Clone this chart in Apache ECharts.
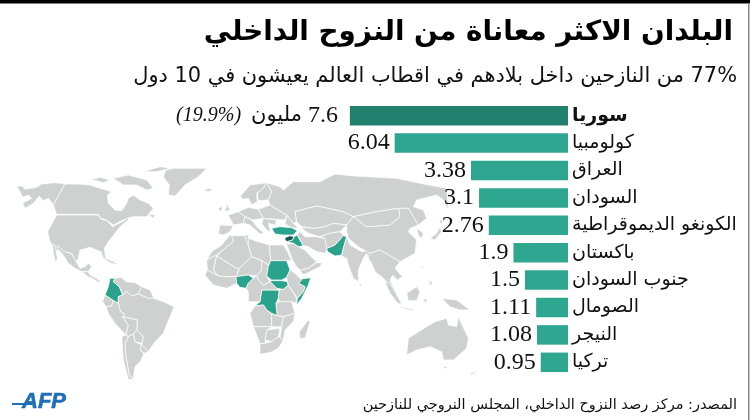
<!DOCTYPE html>
<html dir="rtl" lang="ar">
<head>
<meta charset="utf-8">
<style>html,body{margin:0;padding:0;background:#fff}#chart{width:750px;height:420px}</style>
<script src="https://cdn.jsdelivr.net/npm/echarts@6/dist/echarts.min.js"></script>
</head>
<body>
<div id="chart"></div>
<script>
const titleText = 'البلدان الاكثر معاناة من النزوح الداخلي';
const subtitleText = '77% من النازحين داخل بلادهم في اقطاب العالم يعيشون في 10 دول';
const sourceText = 'المصدر: مركز رصد النزوح الداخلي، المجلس النروجي للنازحين';

const categories = ['سوريا', 'كولومبيا', 'العراق', 'السودان', 'الكونغو الديموقراطية', 'باكستان', 'جنوب السودان', 'الصومال', 'النيجر', 'تركيا'];
const displaced = [7.6, 6.04, 3.38, 3.1, 2.76, 1.9, 1.5, 1.11, 1.08, 0.95];
const valueUnit = 'مليون';
const syriaShare = '(19.9%)';

const highlighted = ['Colombia', 'Turkey', 'Iraq', 'Pakistan', 'Sudan', 'South Sudan', 'Somalia', 'DR Congo', 'Nigeria'];
const darkHighlighted = ['Syria'];

// Simplified country outlines in a flat plane (x grows right, y grows down).
const land = {
  Alaska: [[50,50],[65,47],[75,58],[110,52],[125,42],[165,38],[195,42],[160,105],[145,85],[130,92],[118,78],[100,100],[75,115],[68,100],[95,85],[85,75],[68,82],[60,65]],
  Canada: [[195,42],[160,105],[170,133],[295,133],[303,145],[320,150],[340,165],[370,150],[400,140],[440,140],[460,115],[445,100],[420,90],[400,75],[385,85],[380,100],[365,122],[345,120],[325,100],[322,75],[335,65],[300,55],[270,45],[230,42]],
  Arctic1: [[275,28],[300,22],[330,30],[310,38]],
  Arctic2: [[340,25],[385,15],[440,30],[460,55],[440,60],[410,45],[370,45]],
  Arctic3: [[430,5],[480,-10],[510,-5],[470,5]],
  Newfoundland: [[445,135],[465,133],[460,145]],
  USA: [[170,135],[295,135],[303,147],[320,152],[338,170],[372,152],[388,142],[385,150],[360,170],[345,190],[325,215],[313,235],[318,270],[310,265],[303,245],[270,232],[240,240],[235,265],[228,275],[215,250],[190,245],[165,240],[150,215],[143,185]],
  Mexico: [[172,225],[190,243],[215,252],[230,278],[240,295],[255,290],[265,280],[275,290],[265,305],[245,305],[225,295],[205,280],[190,255],[172,235]],
  Baja: [[158,222],[165,225],[172,265],[168,280],[160,250]],
  CentralAmerica: [[245,305],[265,305],[270,315],[290,325],[302,335],[295,337],[280,327],[265,320]],
  Cuba: [[305,263],[325,268],[360,285],[335,280]],
  Greenland: [[498,0],[520,-5],[620,-5],[595,20],[555,45],[525,78],[505,75],[508,45],[490,20]],
  Iceland: [[610,60],[625,55],[638,58],[625,65]],
  Colombia: [[330,325],[345,325],[340,335],[358,350],[368,375],[355,380],[355,400],[340,392],[315,375],[325,350]],
  Venezuela: [[345,325],[365,322],[378,335],[405,338],[425,350],[415,372],[395,378],[380,365],[368,375],[358,350],[340,335]],
  Guianas: [[425,350],[450,360],[462,385],[445,385],[415,372]],
  Ecuador: [[315,375],[340,392],[335,408],[318,410],[308,395]],
  Peru: [[318,410],[335,408],[340,392],[355,400],[362,425],[375,432],[368,440],[385,465],[378,495],[345,460],[325,430]],
  Brazil: [[368,375],[380,365],[395,378],[415,372],[445,385],[462,385],[490,395],[522,410],[510,440],[490,490],[465,515],[445,545],[425,525],[430,500],[410,480],[412,450],[368,440],[375,432],[362,425],[355,400],[355,380]],
  Bolivia: [[368,440],[412,450],[410,480],[400,492],[385,500],[378,495],[385,465]],
  Paraguay: [[410,480],[430,500],[425,520],[405,515],[400,492]],
  Uruguay: [[425,525],[445,545],[432,550],[420,540]],
  Argentina: [[385,500],[400,492],[405,515],[425,525],[420,540],[432,552],[420,575],[405,590],[400,625],[388,618],[378,560],[375,520]],
  Chile: [[378,495],[385,500],[375,520],[378,560],[388,618],[405,628],[385,628],[370,570],[365,500]],
  Iberia: [[660,165],[700,167],[690,185],[670,195],[655,192]],
  Britain: [[678,95],[690,120],[672,125],[680,110]],
  Ireland: [[657,112],[668,110],[665,122],[655,122]],
  France: [[685,135],[715,125],[735,140],[730,160],[700,165],[695,155]],
  CentralEurope: [[715,125],[745,112],[775,118],[790,145],[760,150],[735,140]],
  Italy: [[735,140],[755,150],[770,170],[792,190],[780,192],[750,165],[730,160]],
  Sweden: [[720,80],[750,45],[800,38],[790,55],[770,70],[772,95],[755,105],[745,85],[730,88]],
  Finland: [[800,38],[815,65],[805,90],[775,92],[772,70],[790,55]],
  EasternEurope: [[775,118],[810,105],[860,135],[855,150],[790,145]],
  Balkans: [[790,145],[830,150],[825,165],[805,160],[812,185],[800,180],[785,160]],
  Caucasus: [[860,135],[880,160],[895,175],[875,173],[855,162]],
  Russia: [[810,105],[805,90],[815,65],[800,38],[840,50],[850,60],[880,35],[960,35],[1005,12],[1060,18],[1190,25],[1260,40],[1340,55],[1345,120],[1330,90],[1310,75],[1250,90],[1240,110],[1270,120],[1280,145],[1255,165],[1225,115],[1195,115],[1130,125],[1060,140],[1030,125],[950,108],[885,125],[890,155],[880,160],[860,135]],
  Kazakhstan: [[885,125],[950,108],[1030,125],[1060,140],[1040,165],[1000,160],[975,170],[945,175],[905,170],[890,155]],
  CentralAsia: [[905,172],[945,175],[975,170],[1000,160],[1040,165],[1020,185],[990,190],[960,200],[925,190],[912,180]],
  Turkey: [[815,175],[840,170],[875,173],[892,182],[880,195],[850,195],[825,192]],
  Syria: [[855,203],[870,197],[882,200],[878,210],[862,215],[855,210]],
  Iraq: [[882,200],[892,195],[900,210],[910,227],[895,230],[880,220],[862,215],[878,210]],
  Iran: [[892,195],[900,185],[915,200],[945,200],[975,205],[985,230],[975,250],[950,245],[925,230],[910,227],[900,210]],
  Pakistan: [[1030,197],[1040,200],[1030,235],[1025,255],[1005,258],[983,245],[980,235],[1005,225]],
  Afghanistan: [[960,200],[990,190],[1020,185],[1030,197],[1005,225],[980,235],[975,205]],
  India: [[1040,200],[1050,225],[1085,245],[1115,240],[1120,255],[1105,265],[1100,250],[1090,265],[1075,300],[1075,335],[1060,325],[1045,285],[1040,265],[1025,258],[1030,235]],
  SriLanka: [[1078,338],[1085,345],[1080,350]],
  China: [[1060,140],[1100,170],[1170,165],[1200,140],[1195,115],[1225,115],[1255,165],[1230,175],[1225,185],[1250,210],[1245,250],[1200,275],[1140,240],[1110,250],[1075,230],[1045,205],[1040,185],[1040,165]],
  Mongolia: [[1060,140],[1130,125],[1195,115],[1200,140],[1170,165],[1100,170]],
  Korea: [[1250,175],[1270,190],[1265,205],[1255,195]],
  Japan: [[1320,170],[1325,185],[1305,210],[1290,205],[1310,190]],
  Hokkaido: [[1318,148],[1330,155],[1320,162]],
  Indochina: [[1110,250],[1140,240],[1200,275],[1185,295],[1207,320],[1192,330],[1178,315],[1170,330],[1190,372],[1180,368],[1160,335],[1145,320],[1125,305],[1115,280],[1105,265]],
  Taiwan: [[1265,285],[1270,290],[1265,300]],
  Luzon: [[1285,330],[1298,338],[1293,350]],
  Sumatra: [[1155,335],[1170,340],[1205,400],[1195,402],[1170,370]],
  Borneo: [[1220,370],[1250,350],[1260,365],[1250,392],[1225,392]],
  Java: [[1205,410],[1240,418],[1238,422],[1205,414]],
  Sulawesi: [[1270,385],[1282,388],[1276,402]],
  NewGuinea: [[1325,385],[1370,390],[1410,420],[1380,420],[1350,410]],
  Australia: [[1220,555],[1225,505],[1280,470],[1305,455],[1340,445],[1345,465],[1370,470],[1375,440],[1405,505],[1400,535],[1360,570],[1330,570],[1325,545],[1290,530],[1250,540]],
  Tasmania: [[1330,590],[1345,590],[1335,597]],
  NewZealand: [[1410,610],[1440,600],[1458,585],[1445,598],[1415,614]],
  Morocco: [[690,195],[715,198],[700,215],[675,235],[650,255],[620,270],[635,245],[665,225]],
  Algeria: [[695,197],[735,197],[745,225],[755,260],[718,295],[710,295],[650,258],[675,235],[700,215]],
  Tunisia: [[735,195],[745,195],[745,225],[738,212]],
  Libya: [[745,205],[775,215],[808,225],[812,272],[805,285],[785,272],[755,260],[745,225]],
  Egypt: [[808,225],[850,225],[860,240],[875,272],[812,272]],
  Niger: [[755,260],[785,272],[785,300],[770,318],[745,315],[708,320],[718,295]],
  Chad: [[785,272],[805,285],[805,290],[800,318],[810,335],[790,345],[775,330],[770,318],[785,300]],
  Mali: [[650,258],[710,295],[718,295],[708,320],[675,320],[655,318],[640,300]],
  Mauritania: [[650,255],[640,300],[655,318],[622,300],[620,270]],
  WestCoast: [[622,300],[655,318],[675,320],[708,320],[710,340],[680,355],[640,345],[615,315]],
  Nigeria: [[708,320],[745,315],[760,325],[745,340],[738,355],[720,352],[710,340]],
  Sudan: [[812,272],[860,272],[870,300],[860,322],[845,330],[815,330],[800,318],[805,290]],
  'South Sudan': [[815,332],[845,332],[862,335],[865,345],[850,358],[830,355],[810,335]],
  Somalia: [[932,323],[925,345],[905,385],[890,405],[892,385],[910,365],[915,350],[895,340],[905,327]],
  'DR Congo': [[785,360],[838,360],[835,385],[828,400],[832,437],[815,430],[800,420],[790,405],[765,408],[780,395]],
  Cameroon: [[760,325],[770,318],[775,330],[790,345],[810,335],[830,355],[838,360],[785,360],[780,395],[745,395],[745,365],[738,355],[745,340]],
  Angola: [[765,408],[790,405],[800,420],[815,432],[815,470],[760,470],[750,430]],
  Tanzania: [[838,395],[875,395],[885,430],[850,440],[832,437],[828,400]],
  Kenya: [[838,360],[850,358],[865,345],[890,385],[888,400],[875,395],[838,395],[835,385]],
  Ethiopia: [[862,335],[860,322],[870,300],[885,310],[905,330],[895,340],[915,350],[910,365],[892,385],[865,345]],
  Zambia: [[815,432],[832,437],[850,440],[845,470],[815,470]],
  Mozambique: [[850,440],[885,430],[880,455],[855,480],[850,510],[840,505],[845,470]],
  Namibia: [[760,470],[815,470],[800,480],[795,520],[780,520]],
  Botswana: [[800,480],[840,475],[835,500],[815,515],[795,510]],
  SouthAfrica: [[780,522],[795,520],[815,515],[835,500],[850,510],[835,535],[810,548],[780,552]],
  Madagascar: [[925,450],[930,455],[915,505],[900,505],[898,485]],
  Saudi: [[860,222],[880,220],[895,230],[915,240],[935,262],[950,275],[925,295],[900,300],[890,290],[875,265]],
  Yemen: [[900,300],[925,295],[950,278],[965,278],[972,268],[960,290],[910,315]]
};

const features = Object.keys(land).map(name => ({
  type: 'Feature',
  properties: { name },
  geometry: { type: 'Polygon', coordinates: [land[name].concat([land[name][0]])] }
}));
echarts.registerMap('flatWorld', { type: 'FeatureCollection', features });

const allPts = Object.values(land).flat();
const xs = allPts.map(p => p[0]);
const ys = allPts.map(p => p[1]);
const minX = Math.min(...xs), maxX = Math.max(...xs), minY = Math.min(...ys), maxY = Math.max(...ys);

const arabicFont = '"DejaVu Sans", "Noto Sans", sans-serif';
const numberFont = '"Liberation Serif", serif';
const barTeal = '#2fa68f';
const barDark = '#23806f';
const mapTeal = '#2aa28c';
const mapDark = '#17594d';

const chart = echarts.init(document.getElementById('chart'), null, { renderer: 'canvas' });
chart.setOption({
  animation: false,
  backgroundColor: '#ffffff',
  geo: {
    map: 'flatWorld',
    silent: true,
    roam: false,
    projection: { project: p => p, unproject: p => p },
    left: minX / 3,
    top: 170 + minY / 3,
    width: (maxX - minX) / 3,
    height: (maxY - minY) / 3,
    label: { show: false },
    itemStyle: { areaColor: '#cfd1d1', borderColor: '#ffffff', borderWidth: 0.7 },
    regions: highlighted.map(name => ({ name, itemStyle: { areaColor: mapTeal } }))
      .concat(darkHighlighted.map(name => ({ name, itemStyle: { areaColor: mapDark } })))
  },
  grid: { left: 281, right: 182, top: 102, height: 274 },
  xAxis: { type: 'value', inverse: true, min: 0, max: 10, show: false },
  yAxis: {
    type: 'category',
    inverse: true,
    position: 'right',
    data: categories.map((value, i) => i === 0
      ? { value, textStyle: { fontWeight: 'bold' } }
      : value),
    axisLine: { show: false },
    axisTick: { show: false },
    axisLabel: { align: 'left', margin: 4, fontSize: 19, color: '#111', fontFamily: arabicFont }
  },
  series: [{
    type: 'bar',
    z: 3,
    barWidth: 19.5,
    data: displaced.map((value, i) => ({
      value,
      itemStyle: { color: i === 0 ? barDark : barTeal }
    })),
    label: {
      show: true,
      position: 'left',
      distance: 5,
      color: '#111',
      fontFamily: numberFont,
      fontSize: 24,
      formatter: p => p.dataIndex === 0
        ? `{share|${syriaShare}}{unit|${valueUnit}}{num|${p.value}}`
        : `${p.value}`,
      rich: {
        share: { fontFamily: numberFont, fontStyle: 'italic', fontSize: 20, color: '#111', padding: [0, 10, 0, 0] },
        unit: { fontFamily: arabicFont, fontSize: 21, color: '#111', padding: [0, 6, 0, 0] },
        num: { fontFamily: numberFont, fontSize: 24, color: '#111', padding: [0, 7, 0, 0] }
      }
    }
  }],
  graphic: [
    { type: 'rect', shape: { x: 0, y: 0, width: 750, height: 3.5 }, style: { fill: '#000' } },
    { type: 'rect', shape: { x: 748, y: 3, width: 1.5, height: 417 }, style: { fill: '#8a8a8a' } },
    { type: 'text', style: { text: titleText, x: 733, y: 33, textAlign: 'right', textVerticalAlign: 'middle', fill: '#000', font: 'bold 27.8px ' + arabicFont } },
    { type: 'text', style: { text: subtitleText, x: 737, y: 77, textAlign: 'right', textVerticalAlign: 'middle', fill: '#111', font: '20.9px ' + arabicFont } },
    { type: 'text', style: { text: sourceText, x: 737, y: 405, textAlign: 'right', textVerticalAlign: 'middle', fill: '#111', font: '14.5px ' + arabicFont } },
    { type: 'rect', shape: { x: 12, y: 403, width: 20, height: 2 }, style: { fill: '#1f6fb2' } },
    { type: 'text', style: { text: 'AFP', x: 22, y: 402, textAlign: 'left', textVerticalAlign: 'middle', fill: '#1f6fb2', stroke: '#1f6fb2', lineWidth: 0.6, font: 'italic bold 22px "Liberation Sans", sans-serif' } }
  ]
});
</script>
</body>
</html>
